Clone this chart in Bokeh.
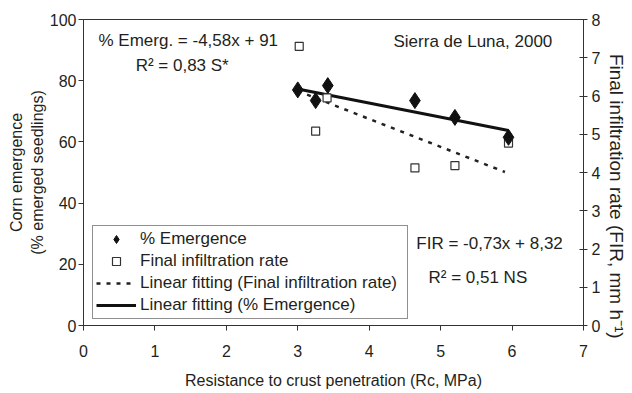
from bokeh.plotting import figure
from bokeh.models import Range1d, LinearAxis, Label, Legend, LegendItem, FixedTicker
from bokeh.embed import file_html
from bokeh.resources import INLINE

# Data
rc_emergence = [3.0, 3.25, 3.42, 4.64, 5.2, 5.95]
emergence = [77.0, 73.5, 78.4, 73.5, 68.0, 61.5]
rc_fir = [3.02, 3.25, 3.41, 4.64, 5.2, 5.95]
fir = [7.3, 5.08, 5.95, 4.12, 4.18, 4.77]

# Fitted equations from the chart
em_slope, em_intercept = -4.58, 91.0
fir_slope, fir_intercept = -0.73, 8.32
em_fit_x = [3.0, 5.95]
fir_fit_x = [3.0, 5.9]
em_fit_y = [em_slope * x + em_intercept for x in em_fit_x]
fir_fit_y = [fir_slope * x + fir_intercept for x in fir_fit_x]

x_ticks = [0, 1, 2, 3, 4, 5, 6, 7]
y_ticks = [0, 20, 40, 60, 80, 100]
y2_ticks = [0, 1, 2, 3, 4, 5, 6, 7, 8]

FONT = "Liberation Sans"
TXT = "#231f20"
AX = "#333333"

p = figure(frame_width=500, frame_height=306, output_backend="svg", toolbar_location=None,
           x_range=Range1d(0, 7), y_range=Range1d(0, 100),
           min_border_left=83, min_border_right=30, min_border_top=19, min_border_bottom=60)
p.extra_y_ranges = {"fir": Range1d(0, 8)}
p.grid.visible = False
p.outline_line_color = AX
p.outline_line_width = 1
p.background_fill_color = "white"
p.border_fill_color = "white"

# Axes styling
p.xaxis.ticker = FixedTicker(ticks=x_ticks)
p.yaxis.ticker = FixedTicker(ticks=y_ticks)
p.xaxis.axis_label = "Resistance to crust penetration (Rc, MPa)"
p.yaxis.axis_label = "Corn emergence\n(% emerged seedlings)"
for ax in (p.xaxis[0], p.yaxis[0]):
    ax.axis_line_color = AX
    ax.major_tick_line_color = AX
    ax.minor_tick_line_color = None
    ax.major_tick_in = 0
    ax.major_tick_out = 5
    ax.major_label_text_font = FONT
    ax.major_label_text_font_size = "16px"
    ax.major_label_text_color = TXT
    ax.axis_label_text_font = FONT
    ax.axis_label_text_font_size = "16px"
    ax.axis_label_text_font_style = "normal"
    ax.axis_label_text_color = TXT
p.xaxis.major_label_standoff = 14
p.xaxis.axis_label_standoff = 12
p.yaxis.major_label_standoff = 2
p.yaxis.axis_label_standoff = 1

ax2 = LinearAxis(y_range_name="fir", ticker=FixedTicker(ticks=y2_ticks),
                 axis_label="\u00a0" * 9 + "Final infiltration rate (FIR, mm h\u207b\u00b9)")
ax2.axis_line_color = AX
ax2.major_tick_line_color = AX
ax2.minor_tick_line_color = None
ax2.major_tick_in = 4
ax2.major_tick_out = 4
ax2.major_label_standoff = 4
ax2.major_label_text_font = FONT
ax2.major_label_text_font_size = "16px"
ax2.major_label_text_color = TXT
ax2.axis_label_text_font = FONT
ax2.axis_label_text_font_size = "19px"
ax2.axis_label_text_font_style = "normal"
ax2.axis_label_text_color = TXT
ax2.axis_label_standoff = 3
p.add_layout(ax2, "right")

# Glyphs
r_fir_fit = p.line(fir_fit_x, fir_fit_y, y_range_name="fir", line_color="#222222",
                   line_width=2.5, line_dash="4 6")
r_em_fit = p.line(em_fit_x, em_fit_y, line_color="#111111", line_width=3)
r_fir = p.scatter(rc_fir, fir, y_range_name="fir", marker="square", size=8,
                  fill_color="white", line_color="#333333", line_width=1.2)
r_em = p.scatter(rc_emergence, emergence, marker="diamond", size=16,
                 fill_color="#111111", line_color="#111111")

legend = Legend(items=[
    LegendItem(label="% Emergence", renderers=[r_em]),
    LegendItem(label="Final infiltration rate", renderers=[r_fir]),
    LegendItem(label="Linear fitting (Final infiltration rate)", renderers=[r_fir_fit]),
    LegendItem(label="Linear fitting (% Emergence)", renderers=[r_em_fit]),
], location=(9, 6))
legend.border_line_color = "#222222"
legend.border_line_width = 1
legend.background_fill_color = "white"
legend.background_fill_alpha = 1
legend.label_text_font = FONT
legend.label_text_font_size = "17px"
legend.label_text_color = TXT
legend.glyph_width = 40
legend.glyph_height = 20
legend.label_height = 20
legend.label_width = 264
legend.spacing = 2
legend.padding = 3
legend.margin = 0
legend.label_standoff = 4
p.add_layout(legend, "center")

def add_label(x, y, text):
    p.add_layout(Label(x=x, y=y, text=text, text_font=FONT, text_font_size="17px",
                       text_color=TXT, text_baseline="middle", text_align="left"))

add_label(0.21, 93.0, "% Emerg. = -4,58x + 91")
add_label(0.73, 85.0, "R\u00b2 = 0,83 S*")
add_label(4.34, 92.8, "Sierra de Luna, 2000")
add_label(4.66, 26.8, "FIR = -0,73x + 8,32")
add_label(4.83, 15.7, "R\u00b2 = 0,51 NS")

open("out.html", "w").write(file_html(p, INLINE))
